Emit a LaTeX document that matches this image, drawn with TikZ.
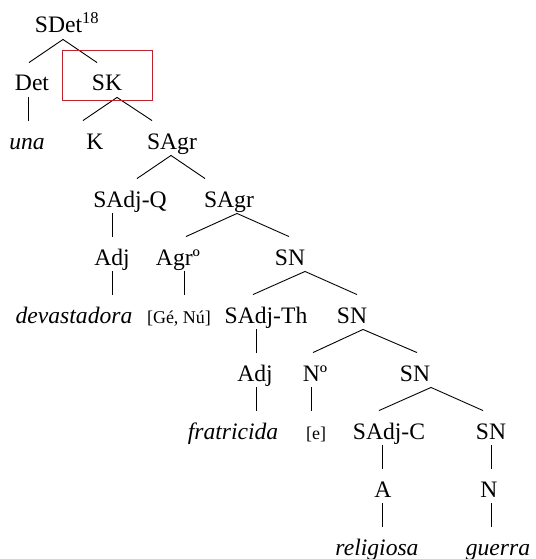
\documentclass[tikz,border=0pt]{standalone}
\usepackage{fontspec}
\setmainfont{Liberation Serif}
\definecolor{boxred}{RGB}{190,35,45}

\begin{document}
\begin{tikzpicture}[x=1pt,y=1pt,line width=0.9pt,
    lbl/.style={anchor=base,inner sep=0pt,text height=28pt,text depth=6pt,
      font=\fontsize{23.6}{28}\selectfont},
    sml/.style={lbl,font=\fontsize{18}{22}\selectfont},
    redbox/.style={draw=boxred,line width=1pt}]
  \useasboundingbox (0,0) rectangle (535,-559);
  % labels: name/x/baseline/text
  \foreach \n/\x/\y/\t in {sdet/67/33/{SDet\textsuperscript{18}},
      det/32/91/Det, sk/107/91/SK,
      una/27/149/\textit{una}, k/95/149/K, sagr/172/149/SAgr,
      sadjq/130/207/SAdj-Q, sagrb/229/207/SAgr,
      adja/112/265/Adj, agr/178/265/Agrº, sna/290/265/SN,
      devast/74/323/\textit{devastadora}, sadjth/266/323/SAdj-Th, snb/352/323/SN,
      adjb/255/381/Adj, no/315/381/Nº, snc/415/381/SN,
      fratr/233/439/\textit{fratricida}, sadjc/389/439/SAdj-C, snd/491/439/SN,
      a/383/497/A, n/489/497/N,
      relig/377/555/\textit{religiosa}, guerra/498/555/\textit{guerra}}
    \node[lbl] (\n) at (\x,-\y) {\t};
  \node[sml] (gn) at (179,-323) {[Gé, Nú]};
  \node[sml] (e) at (316,-439) {[e]};
  % branching
  \foreach \p/\dp/\l/\dl/\r/\dr in {sdet/-4/det/-3/sk/-10, sk/10/k/-12/sagr/-20,
      sagr/-1/sadjq/7/sagrb/-24, sagrb/8/agr/8/sna/-1, sna/15/sadjth/-13/snb/5,
      snb/11/no/-2/snc/2, snc/16/sadjc/-10/snd/-8}
    \draw ([xshift=\dl]\l.north) -- ([xshift=\dp]\p.south) -- ([xshift=\dr]\r.north);
  % unary lines, at the x of node \h
  \foreach \p/\c/\h/\dx in {det/una/una/1, sadjq/adja/adja/0, adja/devast/adja/0,
      agr/gn/agr/6, sadjth/adjb/adjb/1, adjb/fratr/adjb/1, no/e/no/-4,
      sadjc/a/a/-1, a/relig/a/-1, snd/n/snd/0, n/guerra/snd/0}
    \draw ([xshift=\dx]\h.center |- \p.south) -- ([xshift=\dx]\h.center |- \c.north);
  % highlight
  \draw[redbox] ([shift={(-45,40)}]sk.base) rectangle ([shift={(45,-10)}]sk.base);
\end{tikzpicture}
\end{document}
